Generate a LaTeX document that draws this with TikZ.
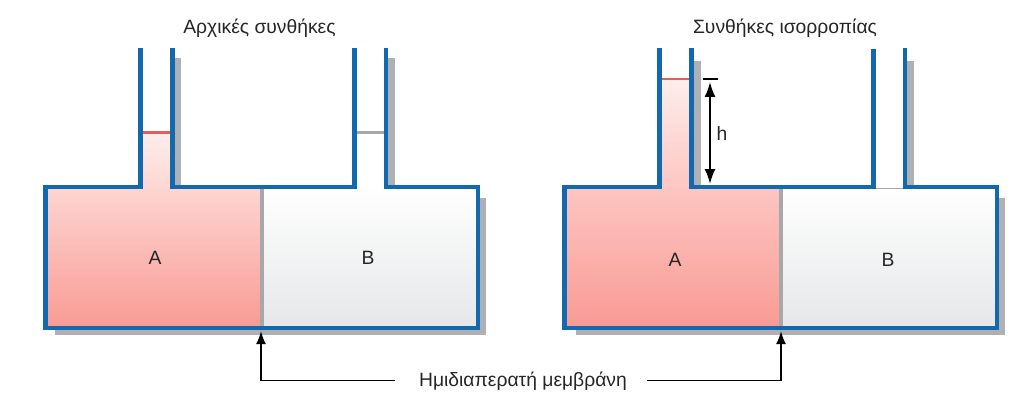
\documentclass[tikz,border=0pt]{standalone}
\usepackage{fontspec}
\setmainfont{Liberation Sans}
\usetikzlibrary{arrows.meta}
\definecolor{wall}{HTML}{1269B0}
\definecolor{shade}{HTML}{AEB0B3}
\definecolor{pinkbot}{HTML}{F99A94}
\definecolor{pinktop}{HTML}{FDD6D2}
\definecolor{pinktube}{HTML}{FDC6C2}
\definecolor{pinkpale}{HTML}{FDEEEC}
\definecolor{greybot}{HTML}{E6E7E9}
\definecolor{levelred}{HTML}{E0605A}
\definecolor{membr}{HTML}{A6A8AB}
\tikzset{
  x=1pt,y=-1pt,
  wallline/.style={draw=wall,line width=4.8pt,miter limit=10},
  shadowbox/.style={fill=shade,draw=none},
  levelredline/.style={draw=levelred,line width=2.2pt},
  levelgreyline/.style={draw=membr,line width=2.2pt},
  membraneline/.style={draw=membr,line width=3.4pt},
  lbl/.style={inner sep=0pt,font=\fontsize{19.3}{22}\selectfont,text=black!85},
  pointer/.style={draw=black,line width=1.9pt,-{Latex[length=13pt,width=10pt]}},
  dim/.style={draw=black,line width=1.9pt,{Latex[length=15pt,width=11pt]}-{Latex[length=15pt,width=11pt]}},
}
\begin{document}
\begin{tikzpicture}
\useasboundingbox (0,0) rectangle (1024,401);
% ---- left vessel
\fill[shadowbox] (55,198) rectangle (485.7,335);
\fill[shadowbox] (172,58) rectangle (180.5,187);
\fill[shadowbox] (386,58) rectangle (394.5,187);
\shade[top color=pinkpale,bottom color=pinktop] (141,132.5) rectangle (173,188);
\shade[top color=pinktop,bottom color=pinkbot] (45.5,187) rectangle (262,328);
\shade[top color=white,bottom color=greybot] (262,187) rectangle (478,328);
\draw[membraneline] (262,187) -- (262,328);
\draw[levelredline] (142,132.5) -- (172,132.5);
\draw[levelgreyline] (356,132.5) -- (385,132.5);
\draw[wallline] (140.7,48.5) -- (140.7,187) -- (45.5,187) -- (45.5,328) -- (478,328) -- (478,187) -- (386,187) -- (386,48.5);
\draw[wallline] (354.3,48.5) -- (354.3,187) -- (172.7,187) -- (172.7,48.5);
% ---- right vessel
\fill[shadowbox] (575.7,198) rectangle (1004.5,335);
\fill[shadowbox] (692,61) rectangle (700.5,187);
\fill[shadowbox] (905,61) rectangle (913.5,187);
\shade[top color=pinkpale,bottom color=pinktube] (661,78.7) rectangle (692,188);
\shade[top color=pinktube,bottom color=pinkbot] (564.5,187) rectangle (781,328);
\shade[top color=white,bottom color=greybot] (781,187) rectangle (997,328);
\draw[membraneline] (781,187) -- (781,328);
\draw[levelredline] (662,78.7) -- (691,78.7);
\draw[draw=membr,line width=1.4pt] (875,188.5) -- (903,188.5);
\draw[wallline] (659.7,48.5) -- (659.7,187) -- (564.5,187) -- (564.5,328) -- (997,328) -- (997,187) -- (905,187) -- (905,48.5);
\draw[wallline] (873.3,49) -- (873.3,187) -- (691.7,187) -- (691.7,48.5);
% ---- labels
\node[lbl] (titleL) at (259.5,28) {Αρχικές συνθήκες};
\node[lbl] (titleR) at (785,28) {Συνθήκες ισορροπίας};
\node[lbl] (aL) at (155,258) {A};
\node[lbl] (bL) at (368,258) {B};
\node[lbl] (aR) at (675,260) {A};
\node[lbl] (bR) at (888,260) {B};
\node[lbl] (hlab) at (722,134) {h};
\node[lbl] (mem) at (523,381) {Ημιδιαπερατή μεμβράνη};
% ---- h dimension
\coordinate (tickL) at (703,79);
\coordinate (tickR) at (718,79);
\coordinate (dimTop) at (710,82);
\coordinate (dimBot) at (710,184);
\draw[black,line width=1.2pt] (tickL) -- (tickR);
\draw[dim] (dimTop) -- (dimBot);
% ---- membrane pointers
\coordinate (memL) at (261,331);
\coordinate (memR) at (781,331);
\coordinate (startL) at (395,380.5);
\coordinate (startR) at (647,380.5);
\draw[pointer] (startL) -| (memL);
\draw[pointer] (startR) -| (memR);
\end{tikzpicture}
\end{document}
